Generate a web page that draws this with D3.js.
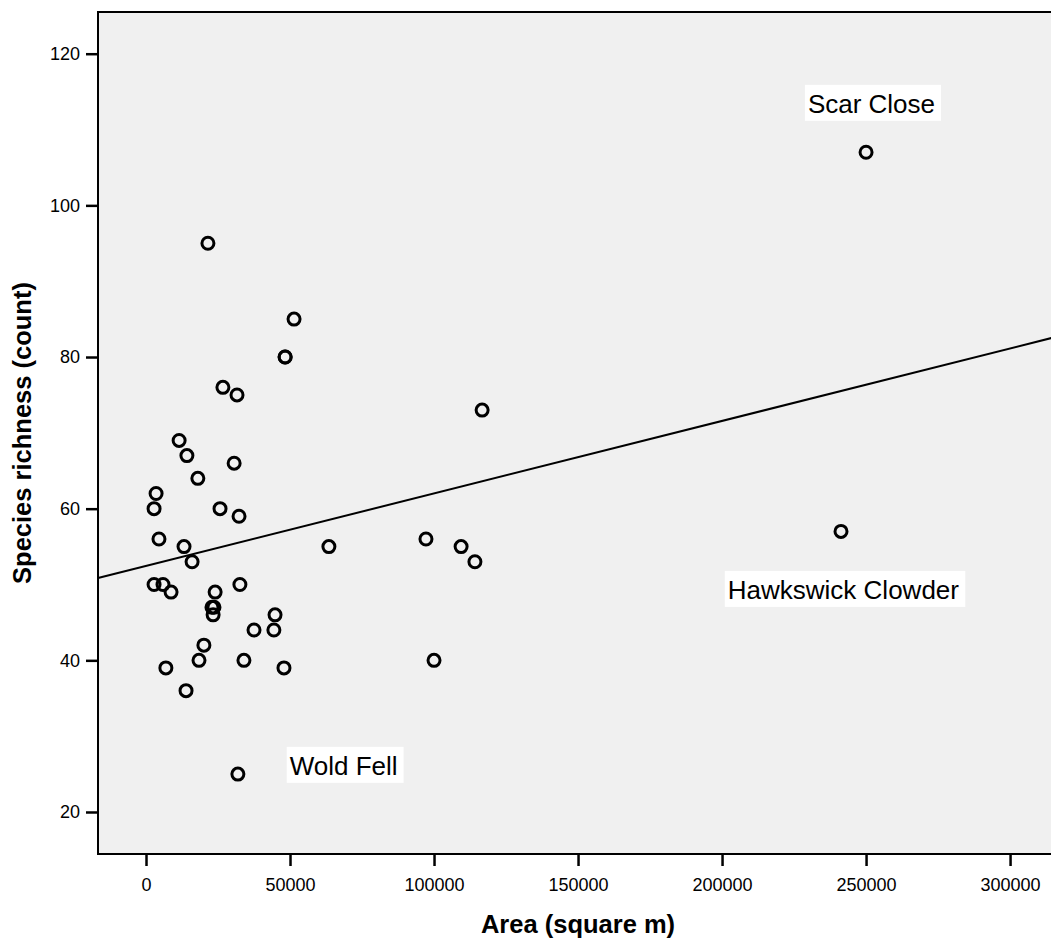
<!DOCTYPE html>
<html>
<head>
<meta charset="utf-8">
<script src="https://cdn.jsdelivr.net/npm/d3@7"></script>
<style>
  body { margin: 0; background: #fff; }
  svg text { font-family: "Liberation Sans", Arial, sans-serif; fill: #000; }
</style>
</head>
<body>
<div id="chart"></div>
<script>
// site area (square m) and species richness (count)
const area = [21500, 51400, 48300, 48300, 26700, 31600, 116700, 11500, 14200, 30600,
  18000, 3500, 2800, 25700, 32300, 4500, 97200, 241300, 13200, 63500,
  109400, 16000, 114200, 2800, 5900, 8700, 24000, 32600, 22900, 23600,
  23300, 44800, 37500, 44400, 20100, 18400, 34000, 100000, 6900, 47900,
  13900, 31900, 250000];
const richness = [95, 85, 80, 80, 76, 75, 73, 69, 67, 66,
  64, 62, 60, 60, 59, 56, 56, 57, 55, 55,
  55, 53, 53, 50, 50, 49, 49, 50, 47, 47,
  46, 46, 44, 44, 42, 40, 40, 40, 39, 39,
  36, 25, 107];

const labelNames = ["Scar Close", "Hawkswick Clowder", "Wold Fell"];
const labelX = [229800, 202000, 49900];
const labelY = [112.2, 48.1, 24.9];

const xTicks = [0, 50000, 100000, 150000, 200000, 250000, 300000];
const yTicks = [20, 40, 60, 80, 100, 120];

// linear fit
const fitIntercept = 52.45;
const fitSlope = 0.0000956;

const width = 1051;
const height = 940;
const margin = { top: 12, right: -4, bottom: 86, left: 98 };

const svg = d3.select("#chart").append("svg")
  .attr("width", width)
  .attr("height", height);

const x = d3.scaleLinear()
  .domain([-16667, 315600])
  .range([margin.left, width - margin.right]);

const y = d3.scaleLinear()
  .domain([14.46, 125.5])
  .range([height - margin.bottom, margin.top]);

const plotW = width - margin.right - margin.left;
const plotH = height - margin.bottom - margin.top;

svg.append("rect")
  .attr("x", margin.left)
  .attr("y", margin.top)
  .attr("width", plotW)
  .attr("height", plotH)
  .attr("fill", "#f0f0f0")
  .attr("stroke", "#000")
  .attr("stroke-width", 2);

const xAxis = svg.append("g")
  .attr("transform", `translate(0,${height - margin.bottom})`)
  .call(d3.axisBottom(x).tickValues(xTicks).tickFormat(d3.format("d")).tickSize(12).tickPadding(12));

const yAxis = svg.append("g")
  .attr("transform", `translate(${margin.left},0)`)
  .call(d3.axisLeft(y).tickValues(yTicks).tickFormat(d3.format("d")).tickSize(12).tickPadding(6));

[xAxis, yAxis].forEach(a => {
  a.select(".domain").remove();
  a.selectAll(".tick line").attr("stroke", "#000").attr("stroke-width", 2.5);
  a.selectAll(".tick text").attr("font-size", 18).attr("font-family", "Liberation Sans, Arial, sans-serif");
});

// fit line
const x0 = x.domain()[0], x1 = x.domain()[1];
const plot = svg.append("g");
plot.append("line")
  .attr("x1", x(x0))
  .attr("y1", y(fitIntercept + fitSlope * x0))
  .attr("x2", x(x1))
  .attr("y2", y(fitIntercept + fitSlope * x1))
  .attr("stroke", "#000")
  .attr("stroke-width", 2);

plot.selectAll("circle")
  .data(area.map((a, i) => [a, richness[i]]))
  .enter()
  .append("circle")
  .attr("cx", d => x(d[0]))
  .attr("cy", d => y(d[1]))
  .attr("r", 6)
  .attr("fill", "none")
  .attr("stroke", "#000")
  .attr("stroke-width", 3);

// point labels
const labels = svg.append("g");
labelNames.forEach((name, i) => {
  const t = labels.append("text")
    .attr("x", x(labelX[i]))
    .attr("y", y(labelY[i]))
    .attr("font-size", 26)
    .text(name);
  const bb = t.node().getBBox();
  labels.insert("rect", "text")
    .attr("x", bb.x - 3)
    .attr("y", bb.y - 4)
    .attr("width", bb.width + 9)
    .attr("height", bb.height + 6)
    .attr("fill", "#fff");
});

svg.append("text")
  .attr("x", 578)
  .attr("y", 933)
  .attr("text-anchor", "middle")
  .attr("font-size", 25.5)
  .attr("font-weight", "bold")
  .text("Area (square m)");

svg.append("text")
  .attr("transform", `translate(31,${margin.top + plotH / 2}) rotate(-90)`)
  .attr("text-anchor", "middle")
  .attr("font-size", 25.5)
  .attr("font-weight", "bold")
  .text("Species richness (count)");
</script>
</body>
</html>
